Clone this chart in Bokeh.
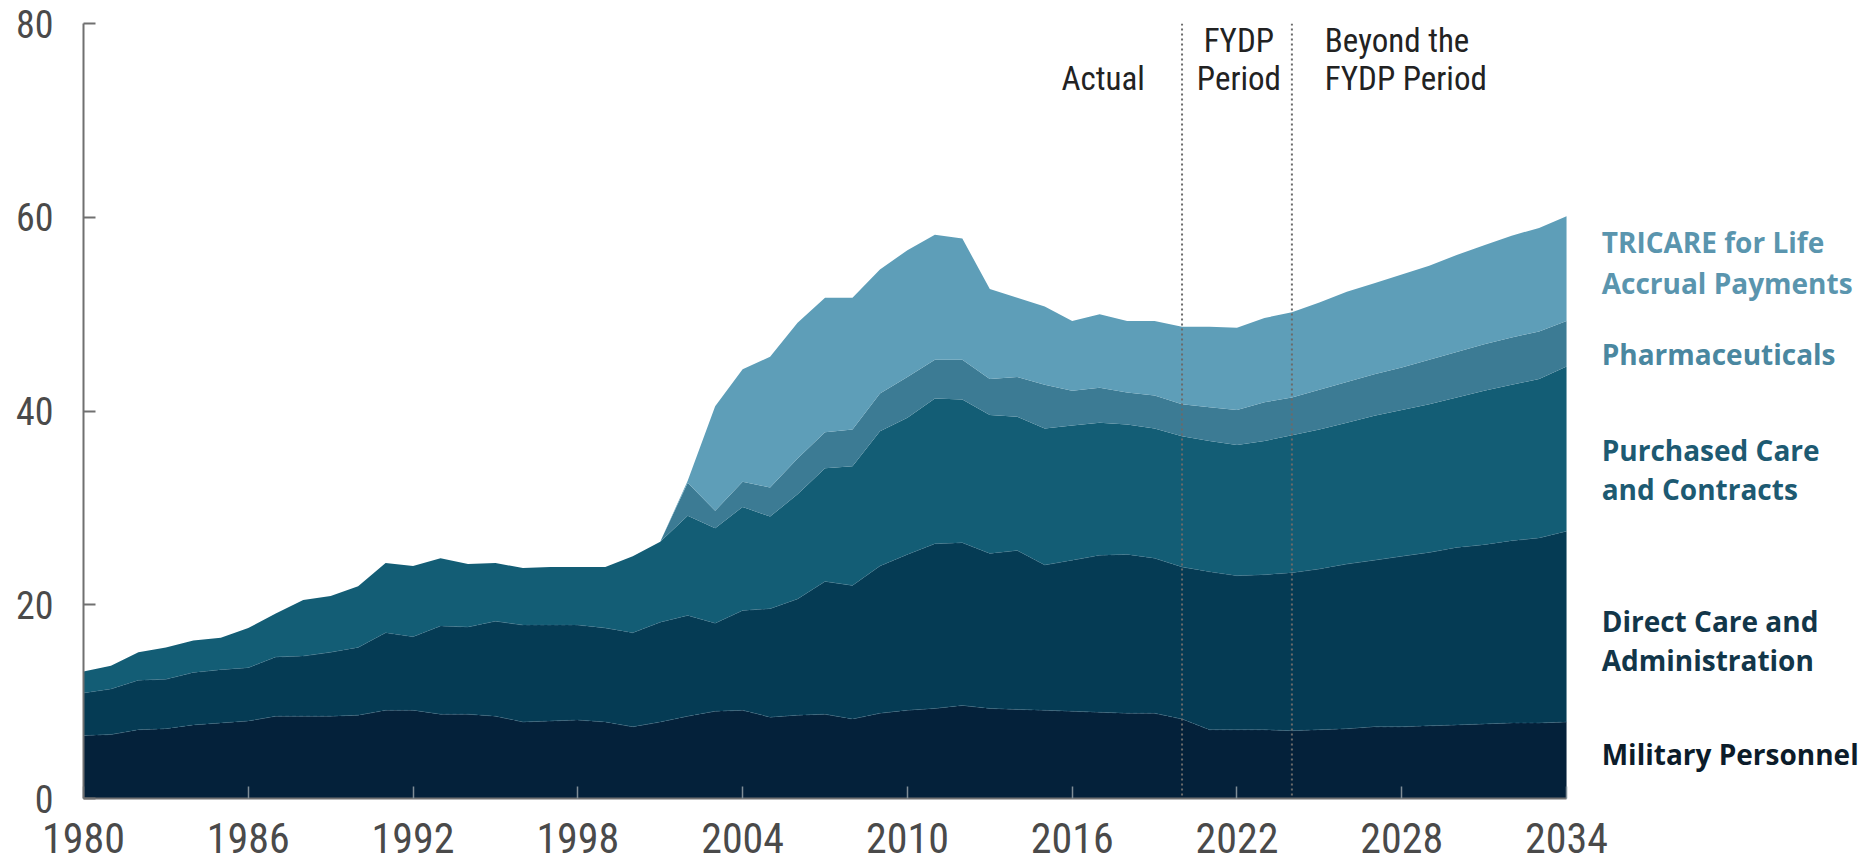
from bokeh.plotting import figure
from bokeh.models import Span, Label, FixedTicker, ColumnDataSource
from bokeh.embed import file_html
from bokeh.resources import INLINE
import numpy as np

years = list(range(1980, 2035))

military = [6.5, 6.6, 7.1, 7.2, 7.6, 7.8, 8.0, 8.5, 8.5, 8.5,
            8.6, 9.1, 9.1, 8.7, 8.7, 8.5, 7.9, 8.0, 8.1, 7.9,
            7.4, 7.9, 8.5, 9.0, 9.1, 8.4, 8.6, 8.7, 8.2, 8.8,
            9.1, 9.3, 9.6, 9.3, 9.2, 9.1, 9.0, 8.9, 8.8, 8.8,
            8.2, 7.1, 7.1, 7.1, 7.0, 7.1, 7.2, 7.4, 7.4, 7.5,
            7.6, 7.7, 7.8, 7.8, 7.9]

direct = [4.4, 4.7, 5.1, 5.1, 5.4, 5.5, 5.5, 6.1, 6.2, 6.6,
          7.0, 8.0, 7.6, 9.1, 9.0, 9.8, 10.0, 9.9, 9.8, 9.7,
          9.7, 10.3, 10.4, 9.1, 10.3, 11.2, 12.0, 13.7, 13.8, 15.2,
          16.1, 17.0, 16.8, 16.0, 16.4, 15.0, 15.6, 16.2, 16.4, 16.0,
          15.7, 16.3, 15.9, 16.0, 16.3, 16.6, 17.0, 17.2, 17.6, 17.9,
          18.3, 18.5, 18.8, 19.1, 19.7]

purchased = [2.2, 2.4, 2.9, 3.3, 3.3, 3.3, 4.1, 4.5, 5.8, 5.8,
             6.3, 7.2, 7.3, 7.0, 6.5, 6.0, 5.9, 6.0, 6.0, 6.3,
             7.9, 8.3, 10.3, 9.8, 10.7, 9.5, 10.8, 11.7, 12.3, 13.9,
             14.1, 15.0, 14.8, 14.3, 13.8, 14.1, 13.9, 13.7, 13.4, 13.4,
             13.5, 13.5, 13.5, 13.8, 14.2, 14.4, 14.6, 14.9, 15.1, 15.3,
             15.5, 15.9, 16.1, 16.4, 17.0]

pharma = [0, 0, 0, 0, 0, 0, 0, 0, 0, 0,
          0, 0, 0, 0, 0, 0, 0, 0, 0, 0,
          0, 0, 3.4, 1.8, 2.6, 3.0, 3.7, 3.7, 3.8, 3.9,
          4.2, 4.0, 4.1, 3.7, 4.1, 4.5, 3.6, 3.6, 3.3, 3.4,
          3.3, 3.5, 3.6, 4.0, 3.9, 4.1, 4.2, 4.3, 4.4, 4.6,
          4.7, 4.8, 4.9, 4.9, 4.7]

tricare = [0, 0, 0, 0, 0, 0, 0, 0, 0, 0,
           0, 0, 0, 0, 0, 0, 0, 0, 0, 0,
           0, 0, 0.2, 10.8, 11.6, 13.5, 14.0, 13.9, 13.6, 12.8,
           13.1, 12.9, 12.5, 9.3, 8.2, 8.1, 7.2, 7.6, 7.4, 7.7,
           8.0, 8.3, 8.5, 8.7, 8.8, 9.0, 9.3, 9.4, 9.6, 9.7,
           10.0, 10.2, 10.5, 10.7, 10.8]

x_ticks = [1980, 1986, 1992, 1998, 2004, 2010, 2016, 2022, 2028, 2034]
y_ticks = [0, 20, 40, 60, 80]
period_lines = [2020, 2024]

series_names = ["military", "direct", "purchased", "pharma", "tricare"]
colors = ["#04213a", "#053b54", "#135d75", "#3c7b94", "#5e9eb8"]

source = ColumnDataSource(dict(year=years, military=military, direct=direct,
                               purchased=purchased, pharma=pharma, tricare=tricare))

p = figure(width=1863, height=861, x_range=(1980, 2044.74), y_range=(0, 80),
           output_backend="svg", toolbar_location=None,
           min_border_left=83, min_border_right=2, min_border_top=23,
           min_border_bottom=63)
p.outline_line_color = None
p.grid.visible = False
p.background_fill_color = "white"

p.varea_stack(stackers=series_names, x="year", color=colors, source=source)

# faint boundary lines
cum1 = np.array(military)
cum2 = cum1 + np.array(direct)
p.line(years, cum1, line_color="#3f7088", line_alpha=0.5, line_width=1, line_dash="4 3")
p.line(years, cum2, line_color="#3f7088", line_alpha=0.5, line_width=1, line_dash="4 3")

for yr in period_lines:
    p.add_layout(Span(location=yr, dimension="height", line_color="#6a6a6a",
                      line_width=2, line_dash="2 3"))

cond = "Liberation Sans Narrow, Roboto Condensed, DejaVu Sans Condensed, sans-serif"

p.xaxis.ticker = FixedTicker(ticks=x_ticks)
p.yaxis.ticker = FixedTicker(ticks=y_ticks)
p.xaxis.bounds = (1980, 2034)
p.xaxis.minor_tick_line_color = None
p.yaxis.minor_tick_line_color = None
for ax in (p.xaxis[0], p.yaxis[0]):
    ax.axis_line_color = "#707070"
    ax.axis_line_width = 2
    ax.major_tick_in = 12
    ax.major_tick_out = 0
p.xaxis.major_tick_line_color = "#7f8d96"
p.xaxis.major_tick_line_width = 1.5
p.yaxis.major_tick_line_color = "#707070"
p.yaxis.major_tick_line_width = 2

p.xaxis.major_label_text_font = cond
p.xaxis.major_label_text_font_size = "42px"
p.xaxis.major_label_text_color = "#4a4a4a"
p.xaxis.major_label_standoff = 24

p.yaxis.major_label_text_font = cond
p.yaxis.major_label_text_font_size = "38px"
p.yaxis.major_label_text_color = "#4a4a4a"
p.yaxis.major_label_standoff = 30

# period annotations
ann = [("Actual", 2017.13, 74.3, "center"),
       ("FYDP", 2022.07, 78.2, "center"),
       ("Period", 2022.07, 74.3, "center"),
       ("Beyond the", 2025.2, 78.2, "left"),
       ("FYDP Period", 2025.2, 74.3, "left")]
for txt, xx, yy, al in ann:
    p.add_layout(Label(x=xx, y=yy, text=txt, text_font=cond, text_font_size="33px",
                       text_color="#222222", text_align=al, text_baseline="middle"))

# series labels
lab = [("TRICARE for Life", 57.4, "#5a95ae"),
       ("Accrual Payments", 53.2, "#5a95ae"),
       ("Pharmaceuticals", 45.9, "#4a87a0"),
       ("Purchased Care", 36.0, "#1d5a72"),
       ("and Contracts", 32.0, "#1d5a72"),
       ("Direct Care and", 18.3, "#123649"),
       ("Administration", 14.3, "#123649"),
       ("Military Personnel", 4.6, "#0c1c2a")]
for txt, yy, col in lab:
    p.add_layout(Label(x=2035.28, y=yy, text=txt, text_font="Open Sans", text_font_style="bold",
                       text_font_size="28px", text_color=col, text_align="left",
                       text_baseline="middle"))

open("out.html", "w").write(file_html(p, INLINE))
